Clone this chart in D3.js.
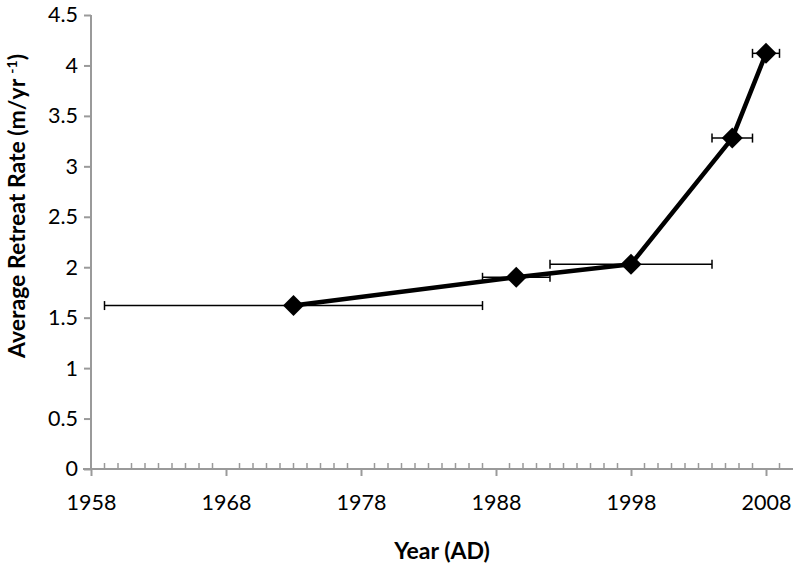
<!DOCTYPE html>
<html>
<head>
<meta charset="utf-8">
<script src="https://cdn.jsdelivr.net/npm/d3@7"></script>
<style>
  body { margin: 0; background: #fff; }
  svg text { font-family: Lato, 'Open Sans', sans-serif; }
</style>
</head>
<body>
<div id="graf"></div>
<script>
// datos
years = [1973, 1989.5, 1998, 2005.5, 2008]
rates = [1.62, 1.9, 2.03, 3.28, 4.12]
yearFrom = [1959, 1987, 1992, 2004, 2007]
yearTo = [1987, 1992, 2004, 2007, 2009]
xTicks = [1958, 1968, 1978, 1988, 1998, 2008]
yTicks = [0, 0.5, 1, 1.5, 2, 2.5, 3, 3.5, 4, 4.5]

datos = years.map((d, i) => ({ year: d, rate: rates[i], from: yearFrom[i], to: yearTo[i] }))

ancho_total = 796
alto_total = 565
margins = { top: 15, left: 91, right: 3, bottom: 96 }
ancho = ancho_total - margins.left - margins.right
alto = alto_total - margins.top - margins.bottom

svg = d3.select('#graf').append('svg')
  .attr('width', ancho_total)
  .attr('height', alto_total)

g = svg.append('g')
  .attr('transform', `translate(${ margins.left }, ${ margins.top })`)

x = d3.scaleLinear().domain([1958, 2010]).range([0, ancho])
y = d3.scaleLinear().domain([0, 4.5]).range([alto, 0])

axisColor = '#9a9a9a'

// eje y
yAxisGroup = g.append('g')
  .call(d3.axisLeft(y).tickValues(yTicks).tickSize(7).tickPadding(6).tickFormat(d => d + ''))
yAxisGroup.select('.domain').attr('stroke', axisColor).attr('stroke-width', 2).attr('d', `M0,${ y(4.5) }V${ alto }`)
yAxisGroup.selectAll('.tick line').attr('stroke', axisColor).attr('stroke-width', 2)
yAxisGroup.selectAll('.tick text').attr('font-size', 21.5).attr('fill', '#000')

// eje x: ticks menores hacia dentro
minorYears = d3.range(1959, 2010).filter(d => (d - 1958) % 10 !== 0)
g.append('g')
  .selectAll('line')
  .data(minorYears)
  .enter()
  .append('line')
    .attr('x1', d => x(d)).attr('x2', d => x(d))
    .attr('y1', alto - 6).attr('y2', alto)
    .attr('stroke', axisColor).attr('stroke-width', 1.5)

xAxisGroup = g.append('g')
  .attr('transform', `translate(0, ${ alto })`)
  .call(d3.axisBottom(x).tickValues(xTicks).tickSize(7).tickPadding(19).tickFormat(d => d + ''))
xAxisGroup.select('.domain').attr('stroke', axisColor).attr('stroke-width', 2).attr('d', `M-8,0H${ ancho }`)
xAxisGroup.selectAll('.tick line').attr('stroke', axisColor).attr('stroke-width', 2)
xAxisGroup.selectAll('.tick text').attr('font-size', 21.5).attr('fill', '#000')

// barras de error
err = g.append('g')
err.selectAll('line.err')
  .data(datos)
  .enter()
  .append('line')
    .attr('class', 'err')
    .attr('x1', d => x(d.from)).attr('x2', d => x(d.to))
    .attr('y1', d => y(d.rate)).attr('y2', d => y(d.rate))
    .attr('stroke', '#000').attr('stroke-width', 1.5)
caps = datos.flatMap(d => [{ yr: d.from, rate: d.rate }, { yr: d.to, rate: d.rate }])
err.selectAll('line.cap')
  .data(caps)
  .enter()
  .append('line')
    .attr('class', 'cap')
    .attr('x1', d => x(d.yr)).attr('x2', d => x(d.yr))
    .attr('y1', d => y(d.rate) - 4.5).attr('y2', d => y(d.rate) + 4.5)
    .attr('stroke', '#000').attr('stroke-width', 1.5)

// linea
linea = d3.line().x(d => x(d.year)).y(d => y(d.rate))
g.append('path')
  .datum(datos)
  .attr('d', linea)
  .attr('fill', 'none')
  .attr('stroke', '#000')
  .attr('stroke-width', 4.5)
  .attr('stroke-linejoin', 'round')

// marcadores rombo
g.selectAll('path.pt')
  .data(datos)
  .enter()
  .append('path')
    .attr('class', 'pt')
    .attr('d', d3.symbol().type(d3.symbolDiamond2).size(280))
    .attr('transform', d => `translate(${ x(d.year) }, ${ y(d.rate) })`)
    .attr('fill', '#000')

// titulos de ejes
svg.append('text')
  .attr('x', 442)
  .attr('y', 559)
  .attr('text-anchor', 'middle')
  .attr('font-size', 23)
  .attr('font-weight', 'bold')
  .text('Year (AD)')

yt = svg.append('text')
  .attr('transform', 'translate(25, 206) rotate(-90)')
  .attr('text-anchor', 'middle')
  .attr('font-size', 23)
  .attr('font-weight', 'bold')
yt.append('tspan').text('Average Retreat Rate (m/yr ')
yt.append('tspan').attr('font-size', 14).attr('dy', -8).text('-1')
yt.append('tspan').attr('dy', 8).text(')')
</script>
</body>
</html>
